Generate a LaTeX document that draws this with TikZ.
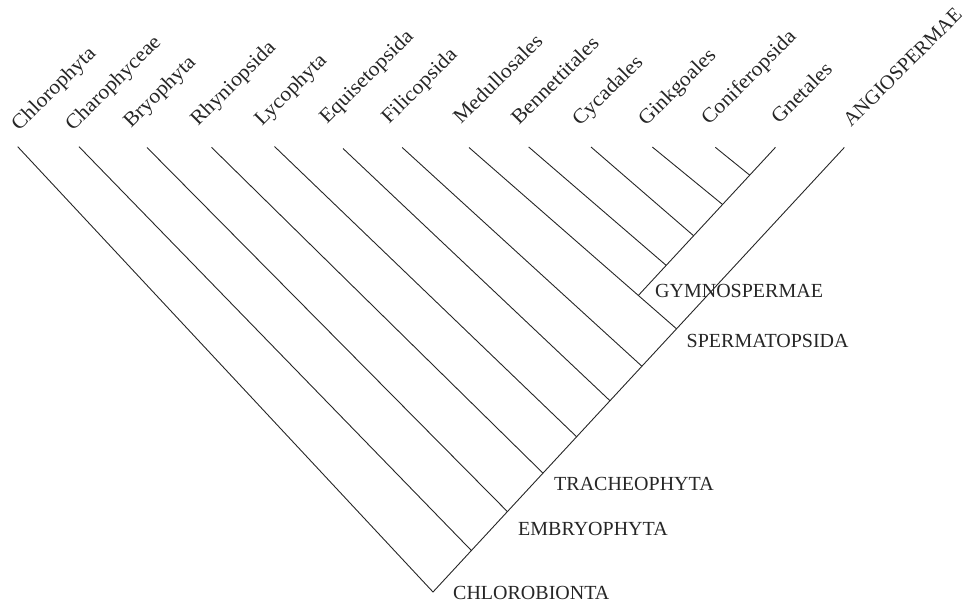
\documentclass[tikz,border=0pt]{standalone}
\usepackage{fontspec}
\setmainfont{Liberation Serif}
\newfontfamily\wideserif[FakeStretch=1.07]{Liberation Serif}
\usetikzlibrary{calc}
\begin{document}
\begin{tikzpicture}[x=1pt,y=-1pt,
  branch/.style={draw=black!85, line width=0.9pt},
  taxon/.style={rotate=45, anchor=base west, inner sep=0pt, font=\wideserif\fontsize{20.5}{24}\selectfont, text=black!85},
  capstaxon/.style={rotate=45, anchor=base west, inner sep=0pt, font=\fontsize{20.2}{24}\selectfont, text=black!85},
  clade/.style={anchor=base west, inner sep=0pt, font=\fontsize{20}{24}\selectfont, text=black!85}]
\useasboundingbox (0,0) rectangle (972,604);
% tips
\coordinate (tCh) at (17.7,146.7);
\coordinate (tCp) at (79,146.7);
\coordinate (tBr) at (147,147.5);
\coordinate (tRh) at (211.5,147.3);
\coordinate (tLy) at (274.5,146.5);
\coordinate (tEq) at (343,148.5);
\coordinate (tFi) at (402.2,147.5);
\coordinate (tMe) at (469,147.5);
\coordinate (tBe) at (528.7,147);
\coordinate (tCy) at (591,147);
\coordinate (tGi) at (652.3,147);
\coordinate (tCo) at (715.3,147.3);
\coordinate (tGn) at (775.5,147.3);
\coordinate (tAn) at (844.3,147.5);
% main spine
\coordinate (root) at (433,592);
\coordinate (n1) at ($(root)!0.0933!(tAn)$);
\coordinate (n2) at ($(root)!0.1809!(tAn)$);
\coordinate (n3) at ($(root)!0.2674!(tAn)$);
\coordinate (n4) at ($(root)!0.3492!(tAn)$);
\coordinate (n5) at ($(root)!0.4303!(tAn)$);
\coordinate (n6) at ($(root)!0.5079!(tAn)$);
\coordinate (n7) at ($(root)!0.5921!(tAn)$);
% gymnosperm spine
\coordinate (g0) at ($(tMe)!0.816!(n7)$);
\coordinate (g1) at ($(g0)!0.203!(tGn)$);
\coordinate (g2) at ($(g0)!0.403!(tGn)$);
\coordinate (g3) at ($(g0)!0.614!(tGn)$);
\coordinate (g4) at ($(g0)!0.812!(tGn)$);
% branches
\draw[branch] (tCh) -- (root) -- (tAn);
\draw[branch] (tCp) -- (n1);
\draw[branch] (tBr) -- (n2);
\draw[branch] (tRh) -- (n3);
\draw[branch] (tLy) -- (n4);
\draw[branch] (tEq) -- (n5);
\draw[branch] (tFi) -- (n6);
\draw[branch] (tMe) -- (n7);
\draw[branch] (g0) -- (tGn);
\draw[branch] (tBe) -- (g1);
\draw[branch] (tCy) -- (g2);
\draw[branch] (tGi) -- (g3);
\draw[branch] (tCo) -- (g4);
% taxon labels
\node[taxon] (lCh) at (19,132) {Chlorophyta};
\node[taxon] (lCp) at (73,132) {Charophyceae};
\node[taxon] (lBr) at (131,129) {Bryophyta};
\node[taxon] (lRh) at (198,127) {Rhyniopsida};
\node[taxon] (lLy) at (262,127) {Lycophyta};
\node[taxon] (lEq) at (327,125) {Equisetopsida};
\node[taxon] (lFi) at (389,125) {Filicopsida};
\node[taxon] (lMe) at (461,125) {Medullosales};
\node[taxon] (lBe) at (519,126) {Bennettitales};
\node[taxon] (lCy) at (580,127) {Cycadales};
\node[taxon] (lGi) at (646,127) {Ginkgoales};
\node[taxon] (lCo) at (709,126) {Coniferopsida};
\node[taxon] (lGn) at (779,125) {Gnetales};
\node[capstaxon] (lAn) at (851,128) {ANGIOSPERMAE};
% clade labels
\node[clade] (cGy) at (655,298) {GYMNOSPERMAE};
\node[clade] (cSp) at (686.5,347) {SPERMATOPSIDA};
\node[clade] (cTr) at (554,490.5) {TRACHEOPHYTA};
\node[clade] (cEm) at (518,535) {EMBRYOPHYTA};
\node[clade] (cCh) at (453,599.5) {CHLOROBIONTA};
\end{tikzpicture}
\end{document}
